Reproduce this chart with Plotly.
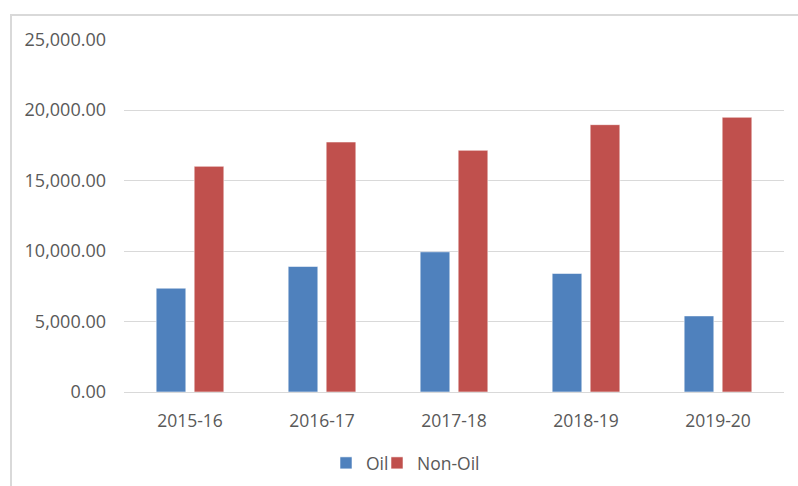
import plotly.graph_objects as go

categories = ["2015-16", "2016-17", "2017-18", "2018-19", "2019-20"]
oil = [7365, 8906, 9943, 8409, 5398]
non_oil = [16009, 17734, 17145, 18963, 19489]
y_ticks = [0, 5000, 10000, 15000, 20000, 25000]

FONT = "Open Sans"
TXT = "#595959"

fig = go.Figure()
fig.add_trace(go.Bar(name="Oil", x=categories, y=oil, legend="legend", showlegend=True,
                     marker=dict(color="#4f81bd", line=dict(color="rgba(255,255,255,0.55)", width=1))))
fig.add_trace(go.Bar(name="Non-Oil", x=categories, y=non_oil, legend="legend2", showlegend=True,
                     marker=dict(color="#c0504d", line=dict(color="rgba(255,255,255,0.55)", width=1))))

leg_common = dict(orientation="h", xanchor="left", yref="container", y=1 - 463 / 486,
                  yanchor="middle", font=dict(family=FONT, size=17.5, color=TXT),
                  itemwidth=30, bgcolor="rgba(0,0,0,0)", visible=True)

fig.update_layout(
    width=798, height=486,
    showlegend=True,
    margin=dict(l=124, r=14, t=39, b=94),
    paper_bgcolor="white", plot_bgcolor="white",
    barmode="group", bargap=0.424, bargroupgap=0.22,
    font=dict(family=FONT, size=18, color=TXT),
    legend=dict(x=(326 - 124) / 660, **leg_common),
    legend2=dict(x=(377 - 124) / 660, **leg_common),
    xaxis=dict(showgrid=False, showline=False, ticks="", ticklabelstandoff=16, automargin=False,
               tickfont=dict(family=FONT, size=17.5, color=TXT)),
    yaxis=dict(range=[0, 25040], tickvals=y_ticks, tickformat=",.2f", automargin=False,
               showgrid=True, gridcolor="#d9d9d9", gridwidth=1,
               zeroline=True, zerolinecolor="#d9d9d9", zerolinewidth=1,
               showline=False, ticks="", ticklabelstandoff=17,
               tickfont=dict(family=FONT, size=18, color=TXT)),
    shapes=[dict(type="rect", xref="paper", yref="paper",
                 x0=(11 - 124) / 660, x1=(805 - 124) / 660,
                 y0=-(495 - 392) / 353, y1=1 + (39 - 15) / 353,
                 line=dict(color="#d9d9d9", width=2), fillcolor="rgba(0,0,0,0)", layer="below")],
)

fig.write_html("out.html", config={"displayModeBar": False},
               post_script="document.body.style.margin='0';document.body.style.overflow='hidden';")
